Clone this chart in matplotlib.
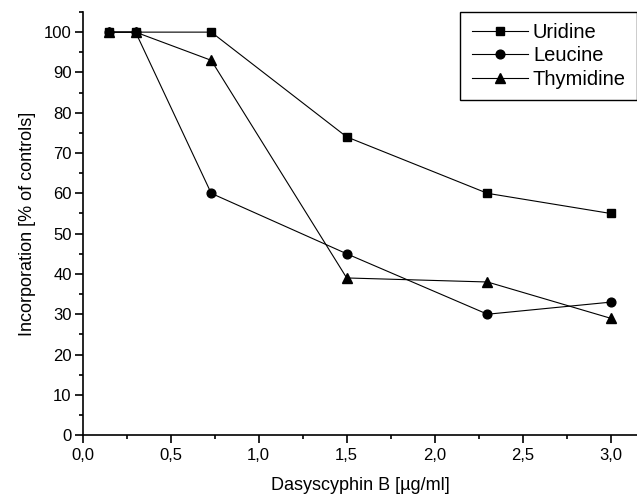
import matplotlib
matplotlib.use('Agg')
import matplotlib.pyplot as plt
from matplotlib.ticker import MultipleLocator, FuncFormatter

plt.rcParams['font.family'] = ['Liberation Sans', 'DejaVu Sans']

dose = [0.15, 0.3, 0.73, 1.5, 2.3, 3.0]
uridine = [100, 100, 100, 74, 60, 55]
leucine = [100, 100, 60, 45, 30, 33]
thymidine = [100, 100, 93, 39, 38, 29]

fig = plt.figure(figsize=(6.37, 4.99), dpi=100)
ax = fig.add_axes([0.130, 0.128, 0.870, 0.848])

ax.plot(dose, uridine, color='black', lw=0.8, marker='s', ms=5.8, label='Uridine')
ax.plot(dose, leucine, color='black', lw=0.8, marker='o', ms=6.3, label='Leucine')
ax.plot(dose, thymidine, color='black', lw=0.8, marker='^', ms=7.2, label='Thymidine')

ax.set_xlim(0, 3.15)
ax.set_ylim(0, 105)
ax.spines['top'].set_visible(False)
ax.spines['right'].set_visible(False)
ax.spines['left'].set_linewidth(1.2)
ax.spines['bottom'].set_linewidth(1.2)

ax.xaxis.set_major_locator(MultipleLocator(0.5))
ax.xaxis.set_minor_locator(MultipleLocator(0.25))
ax.yaxis.set_major_locator(MultipleLocator(10))
ax.yaxis.set_minor_locator(MultipleLocator(5))
ax.xaxis.set_major_formatter(FuncFormatter(lambda v, p: ('%.1f' % v).replace('.', ',')))
ax.tick_params(which='major', length=6, width=1.2, labelsize=12)
ax.tick_params(axis='y', which='major', pad=2)
ax.tick_params(which='minor', length=3, width=1.2)

ax.set_xlabel('Dasyscyphin B [µg/ml]', fontsize=13, labelpad=10)
ax.set_ylabel('Incorporation [% of controls]', fontsize=13, labelpad=6)

leg = ax.legend(loc='upper right', fontsize=14.5, fancybox=False, edgecolor='black',
                framealpha=1, borderaxespad=0.0, handlelength=2.8, handletextpad=0.25,
                labelspacing=0.22, borderpad=0.55, bbox_to_anchor=(1.0, 1.0))
leg.get_frame().set_linewidth(1.0)

fig.savefig('out.png', dpi=100)
